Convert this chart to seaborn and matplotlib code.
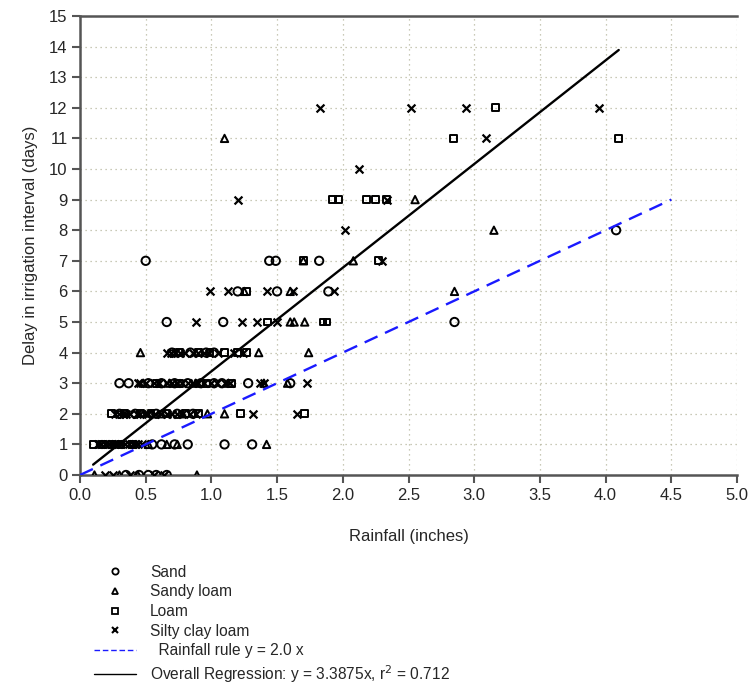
import matplotlib
matplotlib.use("Agg")
import matplotlib.pyplot as plt
from matplotlib.lines import Line2D
import numpy as np
import pandas as pd
import seaborn as sns

# Rainfall (inches) and delay (days)
sand_x = [0.35, 0.45, 0.52, 0.58, 0.66,
          0.55, 0.62, 0.72, 0.82, 1.10, 1.31,
          0.30, 0.42, 0.58, 0.74, 0.86,
          0.30, 0.37, 0.52, 0.62, 0.72, 0.82, 0.92, 1.02, 1.08, 1.28, 1.60,
          0.70, 0.84, 0.96, 1.02,
          0.66, 1.09, 2.85,
          1.20, 1.50, 1.89,
          0.50, 1.44, 1.49, 1.82,
          4.08]
sand_y = [0] * 5 + [1] * 6 + [2] * 5 + [3] * 11 + [4] * 4 + [5] * 3 + [6] * 3 + [7] * 4 + [8]

sandy_loam_x = [0.11, 0.30, 0.44, 0.89,
                0.52, 0.66, 0.74, 1.42,
                0.62, 0.78, 0.97, 1.10,
                0.48, 0.68, 0.88, 1.13, 1.40, 1.58,
                0.46, 0.72, 1.36, 1.74,
                1.60, 1.63, 1.71,
                1.25, 1.60, 2.85,
                1.70, 2.08,
                3.15,
                2.55,
                1.10]
sandy_loam_y = [0] * 4 + [1] * 4 + [2] * 4 + [3] * 6 + [4] * 4 + [5] * 3 + [6] * 3 + [7] * 2 + [8] + [9] + [11]

loam_x = [0.10, 0.17, 0.24, 0.31, 0.40,
          0.24, 0.34, 0.46, 0.54, 0.66, 0.80, 0.90, 1.22, 1.71,
          0.58, 0.76, 0.96, 1.15,
          0.76, 0.90, 0.99, 1.10, 1.20, 1.27,
          1.43, 1.85, 1.88,
          1.27,
          1.70, 2.27,
          1.92, 1.97, 2.18, 2.25, 2.33,
          2.84, 4.10,
          3.16]
loam_y = [1] * 5 + [2] * 9 + [3] * 4 + [4] * 6 + [5] * 3 + [6] + [7] * 2 + [9] * 5 + [11] * 2 + [12]

silty_x = [0.19, 0.25, 0.38, 0.56, 0.64,
           0.14, 0.16, 0.19, 0.22, 0.24, 0.27, 0.29, 0.31, 0.34, 0.37, 0.40, 0.42, 0.44, 0.47,
           0.27, 0.30, 0.33, 0.35, 0.38, 0.43, 0.46, 0.50, 0.52, 0.57, 0.62, 0.66, 0.70,
           0.74, 0.78, 0.84, 0.88, 1.32, 1.65,
           0.44, 0.46, 0.50, 0.56, 0.60, 0.66, 0.70, 0.74, 0.78, 0.82, 0.86, 0.90, 0.94,
           1.00, 1.04, 1.10, 1.14, 1.37, 1.40, 1.73,
           0.66, 0.69, 0.72, 0.76, 0.80, 0.86, 0.90, 0.94, 0.98, 1.05, 1.17, 1.24,
           0.88, 1.23, 1.35, 1.50,
           0.99, 1.13, 1.42, 1.62, 1.93,
           2.30,
           2.02,
           1.20, 2.34,
           2.12,
           3.09,
           1.83, 2.52, 2.94, 3.95]
silty_y = ([0] * 5 + [1] * 14 + [2] * 19 + [3] * 20 + [4] * 12 + [5] * 4 + [6] * 5
           + [7] + [8] + [9] * 2 + [10] + [11] + [12] * 4)

rule_slope = 2.0
rule_x = [0.0, 4.5]
reg_slope = 3.3875
reg_x = [0.1, 4.1]

soil_labels = ["Sand", "Sandy loam", "Loam", "Silty clay loam"]

sns.set_theme(style="white")
plt.rcParams["font.family"] = ["Liberation Sans", "DejaVu Sans"]

df = pd.concat([
    pd.DataFrame({"rain": sand_x, "delay": sand_y, "soil": "Sand"}),
    pd.DataFrame({"rain": sandy_loam_x, "delay": sandy_loam_y, "soil": "Sandy loam"}),
    pd.DataFrame({"rain": loam_x, "delay": loam_y, "soil": "Loam"}),
    pd.DataFrame({"rain": silty_x, "delay": silty_y, "soil": "Silty clay loam"}),
])

fig = plt.figure(figsize=(7.5, 6.85), dpi=100)
ax = fig.add_axes([80 / 750, 1 - 475 / 685, 657 / 750, 459 / 685])

open_markers = {"Sand": ("o", 36), "Sandy loam": ("^", 28), "Loam": ("s", 24)}
for soil, (mk, size) in open_markers.items():
    sub = df[df["soil"] == soil]
    sns.scatterplot(data=sub, x="rain", y="delay", marker=mk, s=size,
                    facecolor="none", edgecolor="black", linewidth=1.4, ax=ax, zorder=3)
sub = df[df["soil"] == "Silty clay loam"]
sns.scatterplot(data=sub, x="rain", y="delay", marker="x", s=32,
                color="black", linewidth=1.6, ax=ax, zorder=3)

rule_df = pd.DataFrame({"x": rule_x, "y": np.array(rule_x) * rule_slope})
reg_df = pd.DataFrame({"x": reg_x, "y": np.array(reg_x) * reg_slope})
sns.lineplot(data=rule_df, x="x", y="y", color="#1a1aff", linestyle=(0, (6, 3.5)), lw=1.7, ax=ax, zorder=4)
sns.lineplot(data=reg_df, x="x", y="y", color="black", lw=1.7, ax=ax, zorder=4)

ax.set_xlim(0, 5)
ax.set_ylim(0, 15)
ax.set_xticks(np.arange(0, 5.01, 0.5))
ax.set_yticks(np.arange(0, 16, 1))
ax.set_xticklabels([f"{v:.1f}" for v in np.arange(0, 5.01, 0.5)])
ax.grid(True, linestyle=(0, (1, 3)), color="#b8b8a0", lw=0.9)
ax.tick_params(direction="out", length=6, width=1.5, color="#555555",
               labelsize=12, pad=3, bottom=True, left=True)
for side in ["left", "bottom", "top"]:
    ax.spines[side].set_color("#555555")
    ax.spines[side].set_linewidth(1.8)
ax.spines["right"].set_visible(False)
ax.set_xlabel("Rainfall (inches)", fontsize=12, labelpad=19)
ax.set_ylabel("Delay in irrigation interval (days)", fontsize=12, labelpad=8)

handles = [
    Line2D([], [], ls="none", marker="o", mfc="none", mec="black", ms=4.5, mew=1.3),
    Line2D([], [], ls="none", marker="^", mfc="none", mec="black", ms=4.5, mew=1.3),
    Line2D([], [], ls="none", marker="s", mfc="none", mec="black", ms=4.5, mew=1.3),
    Line2D([], [], ls="none", marker="x", color="black", ms=4.5, mew=1.5),
    Line2D([], [], color="#1a1aff", ls=(0, (4, 2)), lw=1.0),
    Line2D([], [], color="black", lw=1.0),
]
labels = soil_labels + ["  Rainfall rule y = 2.0 x",
                        "Overall Regression: y = 3.3875x, r$^2$ = 0.712"]
fig.legend(handles, labels, loc="upper left", bbox_to_anchor=(86 / 750, 1 - 557 / 685),
           frameon=False, fontsize=11.2, handlelength=2.7, handletextpad=0.9,
           labelspacing=0.3, borderpad=0)

fig.savefig("out.png", dpi=100)
